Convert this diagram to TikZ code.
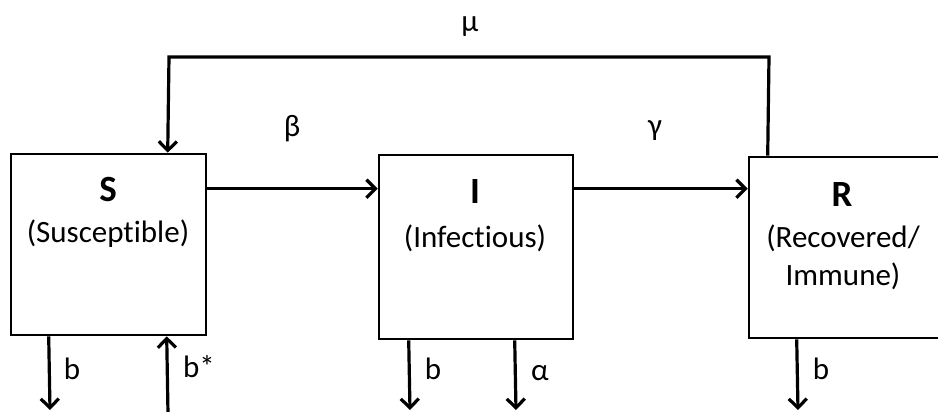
\documentclass[tikz,border=0pt]{standalone}
\usepackage{fontspec}
\setmainfont[Ligatures={NoCommon,NoRare,NoContextual}]{Carlito}
\usetikzlibrary{arrows.meta}
\begin{document}
\begin{tikzpicture}[x=1pt,y=-1pt,
  box/.style={draw,line width=2.6pt,rectangle,inner sep=0pt},
  flow/.style={line width=3.2pt,-{Straight Barb[length=9pt,width=18pt,line width=3.2pt]}},
  ttl/.style={font=\fontsize{37}{40}\selectfont\bfseries},
  sub/.style={font=\fontsize{31}{38}\selectfont,align=center},
  lbl/.style={font=\fontsize{31}{34}\selectfont}]
\useasboundingbox (0,0) rectangle (938,412);
\clip (0,0) rectangle (938,412);
\node[box,minimum width=195pt,minimum height=181pt] (S) at (108.5,244.5) {};
\node[box,minimum width=194pt,minimum height=184pt] (I) at (476,247) {};
\node[box,minimum width=190pt,minimum height=181pt] (R) at (844,247.5) {};
\node[ttl] (St) at (108,189) {S};
\node[sub] (Ss) at (108,234) {(Susceptible)};
\node[ttl] (It) at (475,192) {I};
\node[sub] (Is) at (475,238) {(Infectious)};
\node[ttl] (Rt) at (842,195) {R};
\node[sub] (Rs) at (843,257) {(Recovered/\\Immune)};
% horizontal flows
\draw[flow] ([yshift=-36pt]S.north east) -- ([yshift=-35pt]I.north west);
\draw[flow] ([yshift=-35pt]I.north east) -- ([yshift=-33pt]R.north west);
% top loop
\coordinate (tr) at (769,57);
\coordinate (tl) at (169,57);
\draw[flow] ([xshift=20pt]R.north west) -- (tr) -- (tl) -- ([xshift=158pt]S.north west);
% bottom flows
\coordinate (sb) at (50,410);
\coordinate (ss) at (168,414);
\coordinate (ib) at (410,410);
\coordinate (ia) at (516,410);
\coordinate (rb) at (798,410);
\draw[flow] ([xshift=39pt]S.south west) -- (sb);
\draw[flow] (ss) -- ([xshift=157pt]S.south west);
\draw[flow] ([xshift=31pt]I.south west) -- (ib);
\draw[flow] ([xshift=137pt]I.south west) -- (ia);
\draw[flow] ([xshift=49pt]R.south west) -- (rb);
% labels
\node[lbl] (mu) at (470,27) {μ};
\node[lbl] (be) at (292,129) {β};
\node[lbl] (ga) at (655,131) {γ};
\node[lbl] (l1) at (72,369) {b};
\node[lbl] (l2) at (199,367) {b*};
\node[lbl] (l3) at (433,369) {b};
\node[lbl] (l4) at (540,373) {α};
\node[lbl] (l5) at (821,369) {b};
\end{tikzpicture}
\end{document}
